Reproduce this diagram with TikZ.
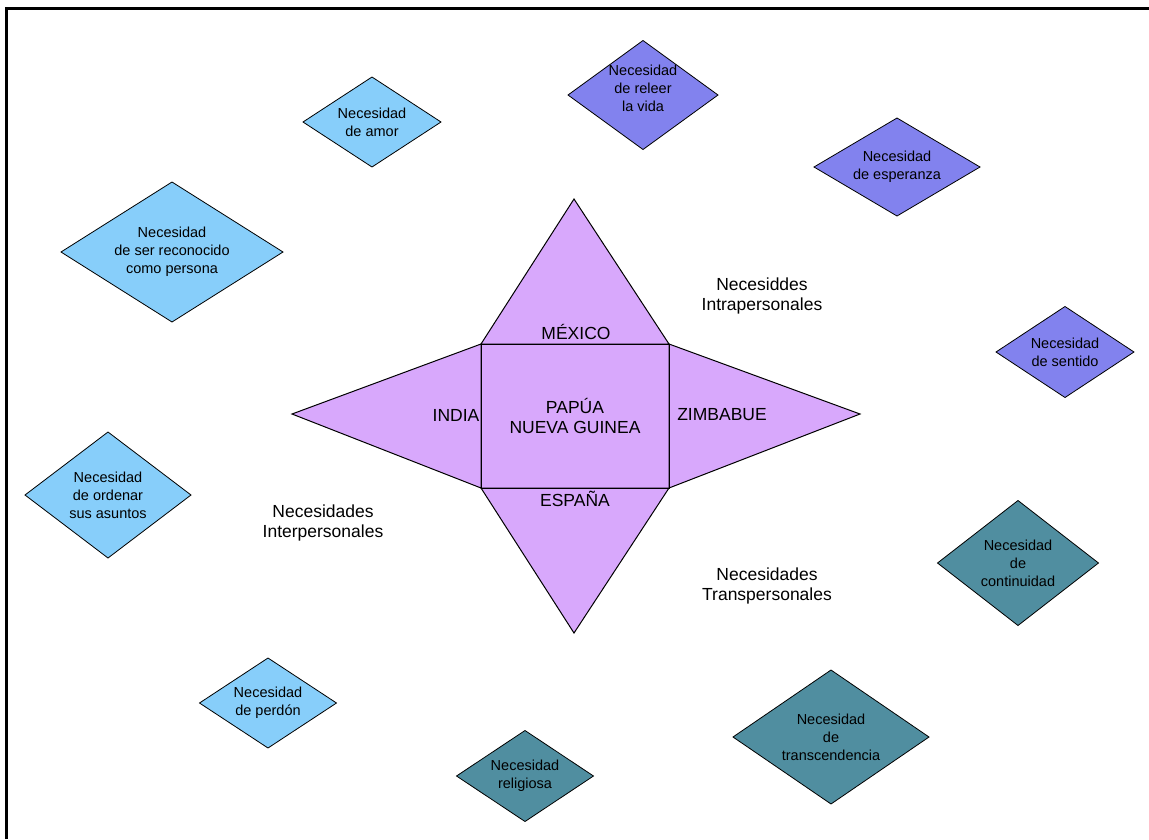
\documentclass[tikz,border=0pt]{standalone}
\usepackage{fontspec}
\setmainfont{Liberation Sans}
\usetikzlibrary{shapes.geometric}
\definecolor{lblue}{RGB}{135,206,250}
\definecolor{pblue}{RGB}{130,130,238}
\definecolor{tealb}{RGB}{80,142,160}
\definecolor{lilac}{RGB}{216,168,252}
\begin{document}
\begin{tikzpicture}[x=1pt,y=-1pt,
  need/.style={diamond, draw=black, line width=0.8pt, inner sep=0pt, outer sep=0pt, align=center, font=\fontsize{14.5}{18}\selectfont},
  lb/.style={need, fill=lblue},
  pb/.style={need, fill=pblue},
  tb/.style={need, fill=tealb},
  star/.style={fill=lilac, draw=black, line width=1pt, line join=miter},
  big/.style={align=center, font=\fontsize{17.5}{20}\selectfont, inner sep=0pt}
]
\useasboundingbox (0,0) rectangle (1149,839);
\fill[white] (0,0) rectangle (1149,839);
% frame
\draw[line width=3pt] (6.5,839) -- (6.5,8) -- (1149,8);

% star
\node[star, rectangle, minimum width=188pt, minimum height=144pt, inner sep=0pt, outer sep=0pt] (sq) at (575,416) {};
\coordinate (ap-top) at (574,199);
\coordinate (ap-left) at (292,414);
\coordinate (ap-right) at (860,414);
\coordinate (ap-bot) at (574,633);
\filldraw[star] (sq.north west) -- (ap-top) -- (sq.north east) -- cycle;
\filldraw[star] (sq.north west) -- (ap-left) -- (sq.south west) -- cycle;
\filldraw[star] (sq.north east) -- (ap-right) -- (sq.south east) -- cycle;
\filldraw[star] (sq.south west) -- (ap-bot) -- (sq.south east) -- cycle;
\draw[line width=1pt] (sq.north west) rectangle (sq.south east);

\node[big] (mex) at (576,332) {MÉXICO};
\node[big] (ind) at (456,415) {INDIA};
\node[big] (png) at (575,416) {PAPÚA\\NUEVA GUINEA};
\node[big] (zim) at (722,415) {ZIMBABUE};
\node[big] (esp) at (575,499) {ESPAÑA};

\node[big] (intra) at (762,296) {Necesiddes\\Intrapersonales};
\node[big] (inter) at (323,523) {Necesidades\\Interpersonales};
\node[big] (trans) at (767,586) {Necesidades\\Transpersonales};

% light blue
\node[lb, aspect=1.533, minimum width=138pt, minimum height=90pt] (amor) at (372,122) {Necesidad\\de amor};
\node[lb, aspect=1.586, minimum width=222pt, minimum height=140pt] (recon) at (172,252) {Necesidad\\de ser reconocido\\como persona};
\node[lb, aspect=1.317, minimum width=166pt, minimum height=126pt] (orden) at (108,495) {Necesidad\\de ordenar\\sus asuntos};
\node[lb, aspect=1.522, minimum width=137pt, minimum height=90pt] (perdon) at (268,703) {Necesidad\\de perdón};
% teal
\node[tb, aspect=1.505, minimum width=137pt, minimum height=91pt] (relig) at (525,776) {Necesidad\\religiosa};
\node[tb, aspect=1.463, minimum width=196pt, minimum height=134pt] (transc) at (831,737) {Necesidad\\de\\transcendencia};
\node[tb, aspect=1.288, minimum width=161pt, minimum height=125pt] (cont) at (1018,563) {Necesidad\\de\\continuidad};
% purple
\node[pb, aspect=1.516, minimum width=138pt, minimum height=91pt] (sent) at (1065,352) {Necesidad\\de sentido};
\node[pb, aspect=1.694, minimum width=166pt, minimum height=98pt] (esper) at (897,167) {Necesidad\\de esperanza};
\node[pb, aspect=1.376, minimum width=150pt, minimum height=109pt] (releer) at (643,95) {};
\node[align=center, inner sep=0pt, font=\fontsize{14.5}{18}\selectfont] (releer-t) at (643,88) {Necesidad\\de releer\\la vida};
\end{tikzpicture}
\end{document}
